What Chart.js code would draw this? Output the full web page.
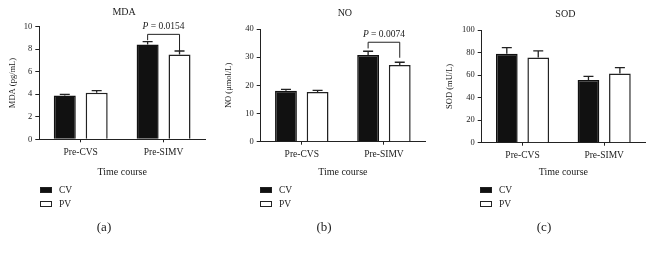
<!DOCTYPE html>
<html>
<head>
<meta charset="utf-8">
<script src="https://cdn.jsdelivr.net/npm/chart.js@4/dist/chart.umd.min.js"></script>
<style>
  html, body { margin: 0; padding: 0; background: #fff; }
  body { width: 660px; height: 254px; position: relative; overflow: hidden; }
  canvas { position: absolute; top: 0; }
</style>
</head>
<body>
<canvas id="cA" width="220" height="254" style="left:0px"></canvas>
<canvas id="cB" width="220" height="254" style="left:220px"></canvas>
<canvas id="cC" width="220" height="254" style="left:440px"></canvas>
<script>
// ---- data ----
const categories = ['Pre-CVS', 'Pre-SIMV'];
const seriesNames = ['CV', 'PV'];

const mdaCV = [3.88, 8.43];
const mdaPV = [4.14, 7.54];
const mdaCVErr = [0.11, 0.24];
const mdaPVErr = [0.18, 0.30];

const noCV = [18.1, 30.8];
const noPV = [17.6, 27.2];
const noCVErr = [0.5, 1.3];
const noPVErr = [0.6, 1.0];

const sodCV = [79.0, 55.6];
const sodPV = [75.7, 61.5];
const sodCVErr = [5.3, 3.3];
const sodPVErr = [5.7, 5.1];

const panelTitles = ['MDA', 'NO', 'SOD'];
const panelCaptions = ['(a)', '(b)', '(c)'];
const yTitles = ['MDA (pg/mL)', 'NO (\u03bcmol/L)', 'SOD (mU/L)'];
const yMax = [10, 40, 100];
const yStep = [2, 10, 20];
const xTitle = 'Time course';

// significance brackets: [category index, top level, left leg end, right leg end]
const mdaBracket = [1, 9.32, 8.8, 7.8];
const noBracket = [1, 35.3, 33.1, 29.8];
const mdaP = '0.0154';
const noP = '0.0074';

// ---- plugins ----
const FONT = '"Liberation Serif", "DejaVu Serif", serif';
const INK = '#222';
const BAR_DARK = '#111';

const errorBarPlugin = {
  id: 'errorBars',
  afterDatasetsDraw(chart) {
    const ctx = chart.ctx;
    const yScale = chart.scales.y;
    ctx.save();
    ctx.strokeStyle = INK;
    ctx.lineWidth = 1.3;
    chart.data.datasets.forEach((ds, di) => {
      const meta = chart.getDatasetMeta(di);
      meta.data.forEach((bar, i) => {
        const top = yScale.getPixelForValue(ds.data[i] + ds.errors[i]);
        const x = bar.x;
        ctx.beginPath();
        ctx.moveTo(x, bar.y);
        ctx.lineTo(x, top);
        ctx.moveTo(x - 5, top);
        ctx.lineTo(x + 5, top);
        ctx.stroke();
      });
    });
    ctx.restore();
  }
};

const decorPlugin = {
  id: 'panelDecor',
  afterDraw(chart, args, opts) {
    const ctx = chart.ctx;
    const ca = chart.chartArea;
    ctx.save();
    ctx.fillStyle = INK;
    ctx.textBaseline = 'middle';
    // title
    ctx.font = '10px ' + FONT;
    ctx.textAlign = 'center';
    ctx.fillText(opts.title, (ca.left + ca.right) / 2 + 2, opts.titleY);
    // legend
    const ds = chart.data.datasets;
    ctx.textAlign = 'left';
    ctx.font = '9.5px ' + FONT;
    ds.forEach((d, i) => {
      const by = 187 + i * 14;
      ctx.fillStyle = d.backgroundColor;
      ctx.fillRect(40, by, 12, 6);
      ctx.strokeStyle = INK;
      ctx.lineWidth = 1;
      ctx.strokeRect(40.5, by + 0.5, 11, 5);
      ctx.fillStyle = INK;
      ctx.fillText(d.label, 59, by + 3);
    });
    // caption
    ctx.font = '13px ' + FONT;
    ctx.textAlign = 'center';
    ctx.fillText(opts.caption, 104, 228);
    ctx.restore();
  }
};

const bracketPlugin = {
  id: 'sigBracket',
  afterDraw(chart, args, opts) {
    if (!opts.bracket) return;
    const [ci, topV, leftV, rightV] = opts.bracket;
    const ctx = chart.ctx;
    const y = chart.scales.y;
    const x0 = chart.getDatasetMeta(0).data[ci].x;
    const x1 = chart.getDatasetMeta(1).data[ci].x;
    const yt = y.getPixelForValue(topV);
    ctx.save();
    ctx.strokeStyle = INK;
    ctx.lineWidth = 1;
    ctx.beginPath();
    ctx.moveTo(x0, y.getPixelForValue(leftV));
    ctx.lineTo(x0, yt);
    ctx.lineTo(x1, yt);
    ctx.lineTo(x1, y.getPixelForValue(rightV));
    ctx.stroke();
    // label "P = value" with italic P
    const cx = (x0 + x1) / 2;
    const ty = yt - 8;
    ctx.fillStyle = INK;
    ctx.textBaseline = 'middle';
    ctx.font = 'italic 9.5px ' + FONT;
    const pW = ctx.measureText('P').width;
    ctx.font = '9.5px ' + FONT;
    const rest = ' = ' + opts.p;
    const rW = ctx.measureText(rest).width;
    const start = cx - (pW + rW) / 2;
    ctx.textAlign = 'left';
    ctx.font = 'italic 9.5px ' + FONT;
    ctx.fillText('P', start, ty);
    ctx.font = '9.5px ' + FONT;
    ctx.fillText(rest, start + pW, ty);
    ctx.restore();
  }
};

function makePanel(id, idx, cv, pv, cvErr, pvErr, geo, bracket, p) {
  const ctx = document.getElementById(id).getContext('2d');
  return new Chart(ctx, {
    type: 'bar',
    data: {
      labels: categories,
      datasets: [
        { label: seriesNames[0], data: cv, errors: cvErr, backgroundColor: BAR_DARK, borderColor: BAR_DARK, borderWidth: 1.5 },
        { label: seriesNames[1], data: pv, errors: pvErr, backgroundColor: '#fff', borderColor: INK, borderWidth: 1.5 }
      ]
    },
    options: {
      responsive: false,
      animation: false,
      devicePixelRatio: 1,
      categoryPercentage: 0.77,
      barPercentage: 0.69,
      layout: { padding: { top: geo.top, right: 220 - geo.right, left: 0, bottom: 254 - 180 } },
      plugins: {
        legend: { display: false },
        tooltip: { enabled: false },
        panelDecor: { title: panelTitles[idx], titleY: geo.titleY, caption: panelCaptions[idx] },
        sigBracket: { bracket: bracket, p: p }
      },
      scales: {
        x: {
          grid: { offset: false, drawOnChartArea: false, drawTicks: true, tickLength: 3, color: INK, lineWidth: 1 },
          border: { display: true, color: INK, width: 1 },
          ticks: { color: INK, font: { family: FONT, size: 9.5 }, padding: 4 },
          title: { display: true, text: xTitle, color: INK, font: { family: FONT, size: 10 }, padding: { top: 0, bottom: 2 } },
          afterFit(s) { s.height = 180 - geo.bottom; }
        },
        y: {
          min: 0, max: yMax[idx],
          grid: { drawOnChartArea: false, drawTicks: true, tickLength: 4, color: INK, lineWidth: 1 },
          border: { display: true, color: INK, width: 1 },
          ticks: { stepSize: yStep[idx], color: INK, font: { family: FONT, size: 8.5 }, padding: 3 },
          title: { display: true, text: yTitles[idx], color: INK, font: { family: FONT, size: 8.5 }, padding: { top: geo.ytPad, bottom: 0 } },
          afterFit(s) { s.width = geo.left; }
        }
      }
    },
    plugins: [errorBarPlugin, decorPlugin, bracketPlugin]
  });
}

makePanel('cA', 0, mdaCV, mdaPV, mdaCVErr, mdaPVErr, { left: 39.3, right: 205, top: 26.7, bottom: 139.3, titleY: 12, ytPad: 8 }, mdaBracket, mdaP);
makePanel('cB', 1, noCV, noPV, noCVErr, noPVErr, { left: 40.7, right: 205, top: 29, bottom: 141.7, titleY: 13, ytPad: 4 }, noBracket, noP);
makePanel('cC', 2, sodCV, sodPV, sodCVErr, sodPVErr, { left: 41.7, right: 205, top: 30, bottom: 142.7, titleY: 14.5, ytPad: 5 }, null, null);
</script>
</body>
</html>
